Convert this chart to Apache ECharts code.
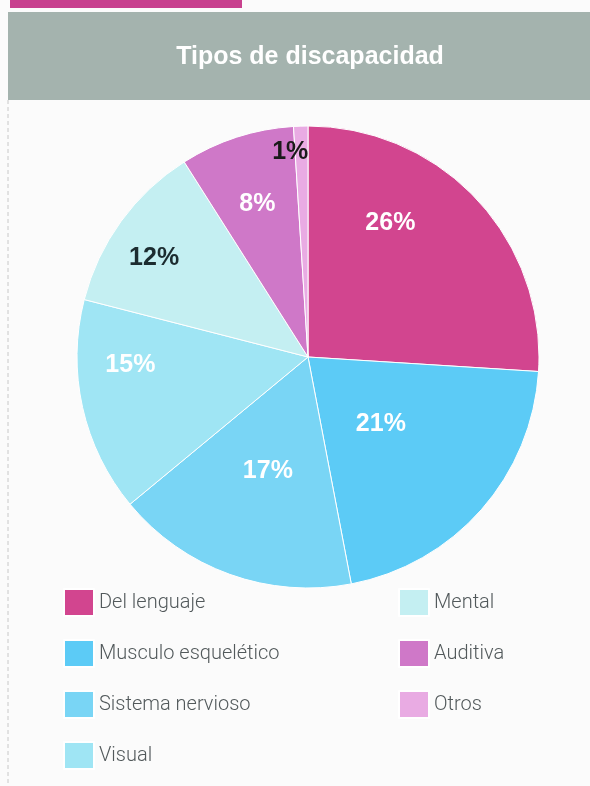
<!DOCTYPE html>
<html>
<head>
<meta charset="utf-8">
<script src="https://cdn.jsdelivr.net/npm/echarts@6/dist/echarts.min.js"></script>
<style>
  html, body { margin: 0; padding: 0; background: #fbfbfb; }
  #chart { width: 590px; height: 786px; }
</style>
</head>
<body>
<div id="chart"></div>
<script>
// Disability types, share of total (%)
const categories = ['Del lenguaje', 'Musculo esquelético', 'Sistema nervioso', 'Visual', 'Mental', 'Auditiva', 'Otros'];
const shares = [26, 21, 17, 15, 12, 8, 1];
const sliceColors = ['#d2458f', '#5ccbf6', '#79d5f5', '#9fe5f4', '#c4eff2', '#cf78c8', '#e9abe3'];
const labelColors = ['#ffffff', '#ffffff', '#ffffff', '#ffffff', '#1c2c30', '#ffffff', '#1a1a1a'];
// Nudges that move each percentage label within its slice
const labelOffsets = [[-4, -53], [-16, -11], [0, 3], [-62, -18], [-58, -29], [-14, -40], [-14, -86]];

const leftLegend = categories.slice(0, 4);
const rightLegend = categories.slice(4);

const chart = echarts.init(document.getElementById('chart'), null, { renderer: 'canvas' });

const pieData = categories.map((name, i) => ({
  name: name,
  value: shares[i],
  itemStyle: { color: sliceColors[i] },
  label: { color: labelColors[i], offset: labelOffsets[i] }
}));

const legendStyle = {
  orient: 'vertical',
  icon: 'rect',
  padding: 0,
  itemWidth: 30,
  itemHeight: 27,
  itemGap: 22,
  selectedMode: false,
  textStyle: {
    fontFamily: 'Roboto, "Liberation Sans", sans-serif',
    fontWeight: 300,
    fontSize: 20,
    color: '#52595b'
  }
};

chart.setOption({
  animation: false,
  backgroundColor: '#fbfbfb',
  graphic: [
    // magenta tab at the top edge
    { type: 'rect', shape: { x: 10, y: 0, width: 232, height: 8 }, style: { fill: '#c8418e' } },
    // grey header band
    { type: 'rect', shape: { x: 8, y: 12, width: 582, height: 88 }, style: { fill: '#a4b3ae' } },
    // dashed frame on the left
    { type: 'line', shape: { x1: 8, y1: 100, x2: 8, y2: 786 }, style: { stroke: '#c8c8c8', lineWidth: 1, lineDash: [4, 3] } }
  ],
  title: {
    text: 'Tipos de discapacidad',
    left: 305,
    top: 40,
    textAlign: 'center',
    textStyle: {
      fontFamily: '"Liberation Sans", Arial, sans-serif',
      fontWeight: 'bold',
      fontSize: 25,
      color: '#ffffff'
    }
  },
  legend: [
    Object.assign({ left: 63, top: 588, data: leftLegend }, legendStyle),
    Object.assign({ left: 398, top: 588, data: rightLegend }, legendStyle)
  ],
  series: [{
    type: 'pie',
    center: [308, 357],
    radius: 231,
    startAngle: 90,
    clockwise: true,
    silent: true,
    itemStyle: { borderColor: '#ffffff', borderWidth: 1 },
    label: {
      show: true,
      position: 'inside',
      formatter: '{c}%',
      fontFamily: '"Liberation Sans", Arial, sans-serif',
      fontWeight: 'bold',
      fontSize: 25
    },
    labelLine: { show: false },
    emphasis: { disabled: true },
    data: pieData
  }]
});
</script>
</body>
</html>
